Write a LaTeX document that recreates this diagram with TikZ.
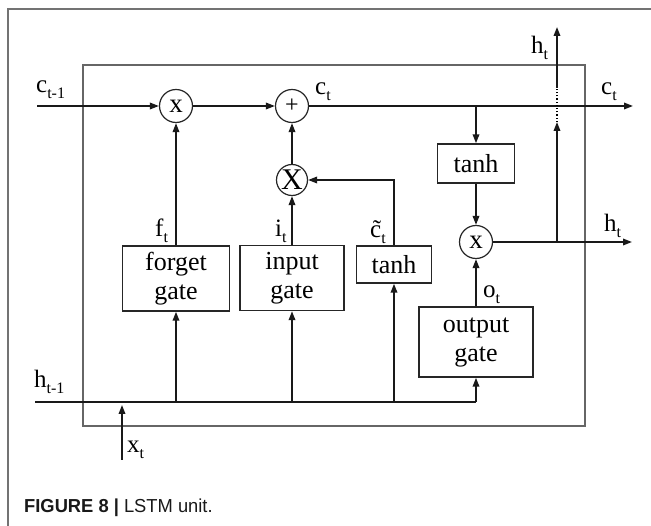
\documentclass[tikz,border=0pt]{standalone}
\usepackage{fontspec}
\setmainfont{Liberation Serif}
\newfontfamily\capfont[FakeStretch=0.975]{Liberation Sans}
\usetikzlibrary{arrows.meta}
\newcommand{\sbs}[1]{\raisebox{-6pt}{\fontsize{16}{16}\selectfont #1}}
\begin{document}
\begin{tikzpicture}[x=1pt,y=-1pt,
  line/.style={line width=1.8pt, draw=black!90},
  arr/.style={line, -{Triangle[length=9pt,width=6.5pt]}},
  gatebox/.style={draw=black!85, line width=1.4pt, inner sep=0pt, align=center, font=\fontsize{26}{29}\selectfont},
  op/.style={circle, draw=black!85, line width=1.2pt, inner sep=0pt},
  lab/.style={anchor=base west, inner sep=0pt, font=\fontsize{25}{28}\selectfont},
]
\useasboundingbox (0,0) rectangle (651,526);
% outer frame
\draw[black!55, line width=1.2pt] (8,526) -- (8,9) -- (651,9);
% inner cell
\draw[black!60, line width=1.3pt] (83,65) rectangle (585,426);

% operators
\node[op, minimum size=33pt, font=\fontsize{27}{27}\selectfont] (m1) at (176,106) {x};
\node[op, minimum size=33pt, font=\fontsize{24}{24}\selectfont] (plus) at (292,106) {+};
\node[op, minimum size=31pt, font=\fontsize{30}{30}\selectfont] (mx) at (292,180) {X};
\node[op, minimum size=33pt, font=\fontsize{27}{27}\selectfont] (m3) at (476,242) {x};

% boxes
\node[gatebox, minimum width=107pt, minimum height=65pt] (forget) at (176,278.5) {forget\\gate};
\node[gatebox, minimum width=104pt, minimum height=65pt] (input) at (292,278) {input\\gate};
\node[gatebox, minimum width=75pt, minimum height=37pt] (tanhc) at (394,264.5) {tanh};
\node[gatebox, minimum width=77pt, minimum height=39pt] (tanho) at (476,163.5) {tanh};
\node[gatebox, minimum width=114pt, minimum height=70pt] (output) at (476,342) {output\\gate};

% coordinates
\coordinate (cin) at (37,106);
\coordinate (cout) at (633,106);
\coordinate (ctap) at (476,106);
\coordinate (hout) at (632,242);
\coordinate (hj) at (557,242);
\coordinate (hdot1) at (557,122);
\coordinate (hdot2) at (557,88);
\coordinate (htop) at (557,27);
\coordinate (hin) at (35,402);
\coordinate (hend) at (476,402);
\coordinate (xin) at (122,460);
\coordinate (xtip) at (122,405);

% cell state path
\draw[arr] (cin) -- (m1);
\draw[arr] (m1) -- (plus);
\draw[arr] (plus) -- (cout);
\draw[arr] (forget.north) -- (m1.south);
\draw[arr] (input.north) -- (mx.south);
\draw[arr] (mx.north) -- (plus.south);
\draw[arr] (tanhc.north) |- (mx.east);
\draw[arr] (ctap) -- (tanho.north);
\draw[arr] (tanho.south) -- (m3.north);
\draw[arr] (output.north) -- (m3.south);
\draw[arr] (m3.east) -- (hout);
\draw[arr] (hj) -- (hdot1);
\draw[line width=1.2pt, dotted] (hdot1) -- (hdot2);
\draw[arr] (hdot2) -- (htop);

% hidden input path
\draw[line] (hin) -- (hend);
\draw[arr] (hend) -- (output.south);
\draw[arr] (forget.south |- hin) -- (forget.south);
\draw[arr] (input.south |- hin) -- (input.south);
\draw[arr] (tanhc.south |- hin) -- (tanhc.south);
\draw[arr] (xin) -- (xtip);

% labels
\node[lab] (lc1) at (36,93) {c\sbs{t-1}};
\node[lab] (lc2) at (315,95) {c\sbs{t}};
\node[lab] (lc3) at (601,95) {c\sbs{t}};
\node[lab] (lh1) at (531,54) {h\sbs{t}};
\node[lab] (lh2) at (604,232) {h\sbs{t}};
\node[lab] (lf) at (155,237) {f\sbs{t}};
\node[lab] (li) at (275,237) {i\sbs{t}};
\node[lab] (lct) at (370,238) {\~{c}\sbs{t}};
\node[lab] (lo) at (483,298) {o\sbs{t}};
\node[lab] (lh0) at (34,388) {h\sbs{t-1}};
\node[lab] (lx) at (127,453) {x\sbs{t}};

% caption
\node[anchor=base west, inner sep=0pt, text=black!90, font=\capfont\fontsize{18.8}{22}\selectfont] (cap) at (24,512) {\textbf{FIGURE 8 |} LSTM unit.};
\end{tikzpicture}
\end{document}
